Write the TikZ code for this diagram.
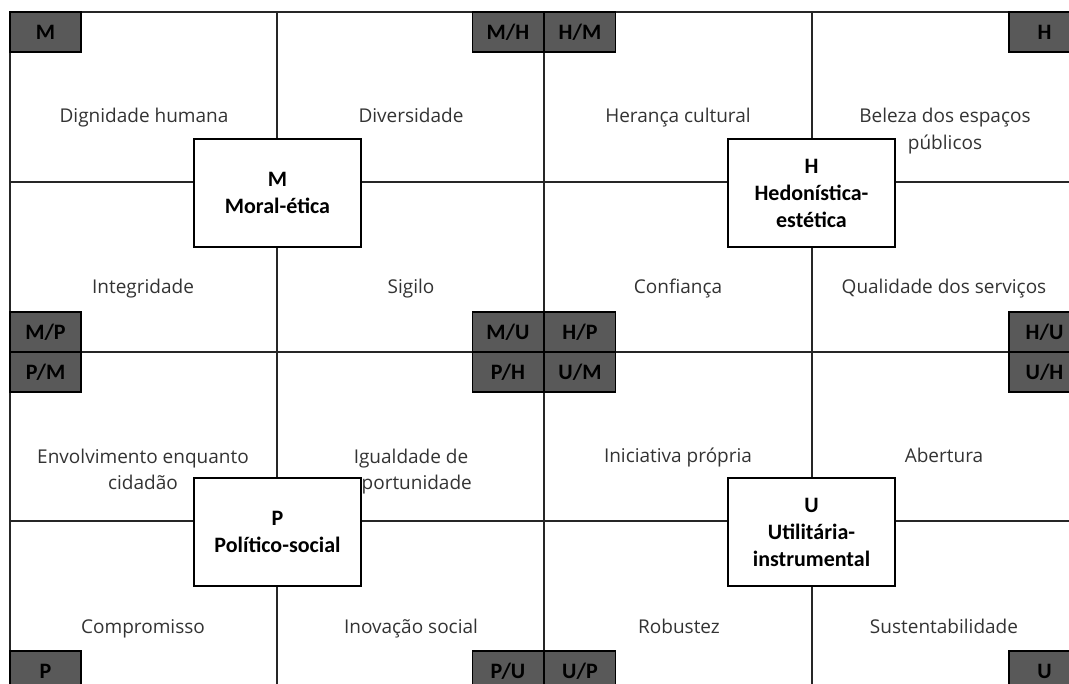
\documentclass[tikz,border=0pt]{standalone}
\usepackage{fontspec}
\setmainfont{Open Sans}
\newfontfamily\boxfont{Carlito}
\begin{document}
\begin{tikzpicture}[x=1pt,y=-1pt,
  grid/.style={line width=1.4pt,draw=black!85},
  lbl/.style={font=\fontsize{19}{27}\selectfont,text=black!80,align=center,inner sep=0pt},
  corebox/.style={draw=black,line width=1.4pt,fill=white,minimum width=167pt,minimum height=108pt,
    align=center,inner sep=0pt,font=\boxfont\bfseries\fontsize{22}{27}\selectfont},
  tag/.style={draw=black,line width=1.2pt,fill=black!65,minimum width=71pt,minimum height=40pt,
    inner sep=0pt,font=\boxfont\bfseries\fontsize{22}{26}\selectfont,text=black}]
\useasboundingbox (0,0) rectangle (1069,684);
\clip (0,0) rectangle (1069,684);

% grid coordinates
\coordinate (t0) at (10,12);   \coordinate (t1) at (1069,12);
\coordinate (a0) at (10,182);  \coordinate (a1) at (1069,182);
\coordinate (b0) at (10,352);  \coordinate (b1) at (1069,352);
\coordinate (c0) at (10,521);  \coordinate (c1) at (1069,521);
\coordinate (v0t) at (10,12);  \coordinate (v0b) at (10,684);
\coordinate (v1t) at (277,12); \coordinate (v1b) at (277,684);
\coordinate (v2t) at (544,12); \coordinate (v2b) at (544,684);
\coordinate (v3t) at (812,12); \coordinate (v3b) at (812,684);

\draw[grid] (t0) -- (t1);
\draw[grid] (a0) -- (a1);
\draw[grid] (b0) -- (b1);
\draw[grid] (c0) -- (c1);
\draw[grid] (v0t) -- (v0b);
\draw[grid] (v1t) -- (v1b);
\draw[grid] (v2t) -- (v2b);
\draw[grid] (v3t) -- (v3b);

% cell labels (struts keep every line the same height and depth)
\node[lbl] (l11) at (144,117.6) {Dignidade humana\strut};
\node[lbl] (l12) at (411,117.6) {Diversidade\strut};
\node[lbl] (l13) at (678,117.6) {Herança cultural\strut};
\node[lbl] (l14) at (945,131.1) {Beleza dos espaços\strut\\públicos\strut};
\node[lbl] (l21) at (143,288.6) {Integridade\strut};
\node[lbl] (l22) at (411,288.6) {Sigilo\strut};
\node[lbl] (l23) at (678,288.6) {Confiança\strut};
\node[lbl] (l24) at (944,288.6) {Qualidade dos serviços\strut};
\node[lbl] (l31) at (143,471.1) {Envolvimento enquanto\strut\\cidadão\strut};
\node[lbl] (l32) at (411,471.1) {Igualdade de\strut\\oportunidade\strut};
\node[lbl] (l33) at (678,457.6) {Iniciativa própria\strut};
\node[lbl] (l34) at (944,457.6) {Abertura\strut};
\node[lbl] (l41) at (143,627.6) {Compromisso\strut};
\node[lbl] (l42) at (411,627.6) {Inovação social\strut};
\node[lbl] (l43) at (679,627.6) {Robustez\strut};
\node[lbl] (l44) at (944,627.6) {Sustentabilidade\strut};

% dimension boxes
\node[corebox] (M) at (277.5,193) {M\\Moral-ética};
\node[corebox] (H) at (811.5,193) {H\\Hedonística-\\estética};
\node[corebox] (P) at (277.5,532) {P\\Político-social};
\node[corebox] (U) at (811.5,532) {U\\Utilitária-\\instrumental};

% corner tags
\node[tag] (tM)  at (45.5,32)   {M};
\node[tag] (tMH) at (508,32)    {M/H};
\node[tag] (tHM) at (580,32)    {H/M};
\node[tag] (tH)  at (1044.5,32) {H};
\node[tag] (tMP) at (45.5,332)  {M/P};
\node[tag] (tPM) at (45.5,372)  {P/M};
\node[tag] (tMU) at (508,332)   {M/U};
\node[tag] (tPH) at (508,372)   {P/H};
\node[tag] (tHP) at (580,332)   {H/P};
\node[tag] (tUM) at (580,372)   {U/M};
\node[tag] (tHU) at (1044.5,332) {H/U};
\node[tag] (tUH) at (1044.5,372) {U/H};
\node[tag] (tP)  at (45.5,671)  {P};
\node[tag] (tPU) at (508,671)   {P/U};
\node[tag] (tUP) at (580,671)   {U/P};
\node[tag] (tU)  at (1044.5,671) {U};
\end{tikzpicture}
\end{document}
